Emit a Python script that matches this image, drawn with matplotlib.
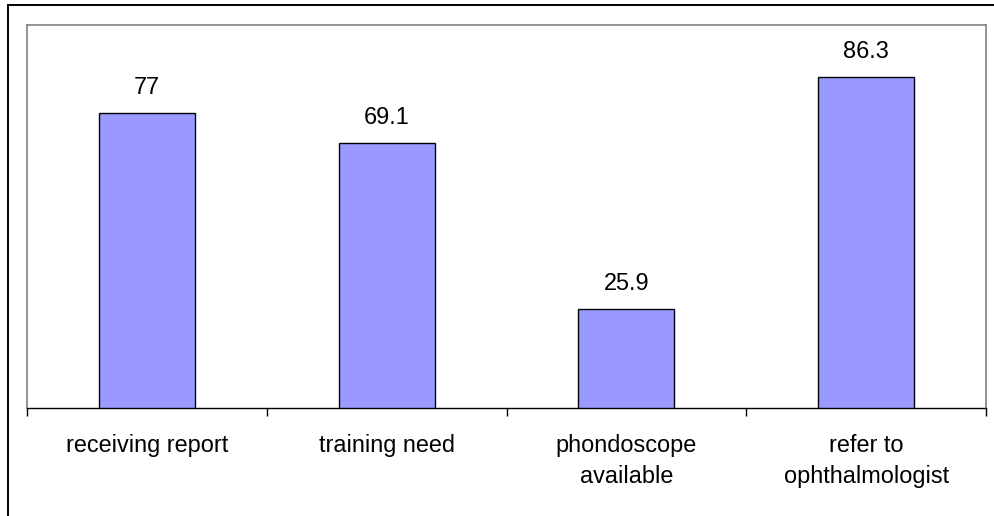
import matplotlib
matplotlib.use("Agg")
import matplotlib.pyplot as plt
from matplotlib.patches import Rectangle

categories = ["receiving report", "training need", "phondoscope\navailable", "refer to\nophthalmologist"]
values = [77, 69.1, 25.9, 86.3]
value_labels = ["77", "69.1", "25.9", "86.3"]

plt.rcParams['font.family'] = ['Liberation Sans', 'DejaVu Sans']

W, H = 995, 516
fig = plt.figure(figsize=(W / 100, H / 100), dpi=100)
fig.patch.set_facecolor("white")

# outer frame (extends beyond right/bottom edges)
fig.patches.append(Rectangle((8 / W, -0.1), 1.2, 1 - 5 / H + 0.1, transform=fig.transFigure,
                             fill=False, edgecolor="black", linewidth=1.4, zorder=0))

ax = fig.add_axes([27 / W, (H - 408) / H, (986 - 27) / W, (408 - 24.5) / H])
x = list(range(len(categories)))
ax.bar(x, values, width=0.4, color="#9999FF", edgecolor="black", linewidth=1.0, zorder=3)

for xi, v, lab in zip(x, values, value_labels):
    ax.annotate(lab, (xi, v), xytext=(0, 13.7), textcoords="offset points",
                ha="center", va="baseline", fontsize=16.9, color="black")

ax.set_xlim(-0.5, len(categories) - 0.5)
ax.set_ylim(0, 100)
ax.set_yticks([])

ax.set_xticks([i - 0.5 for i in range(len(categories) + 1)])
ax.set_xticklabels([])
ax.tick_params(axis="x", which="major", direction="out", length=5.8, width=1.0, color="black")
ax.set_xticks(x, minor=True)
ax.set_xticklabels(categories, minor=True, fontsize=16.9, linespacing=1.47)
ax.tick_params(axis="x", which="minor", length=0, pad=18.6)

for side in ["top", "left", "right"]:
    ax.spines[side].set_color("#808080")
    ax.spines[side].set_linewidth(1.2)
ax.spines["bottom"].set_color("black")
ax.spines["bottom"].set_linewidth(1.0)

fig.savefig("out.png", dpi=100)
